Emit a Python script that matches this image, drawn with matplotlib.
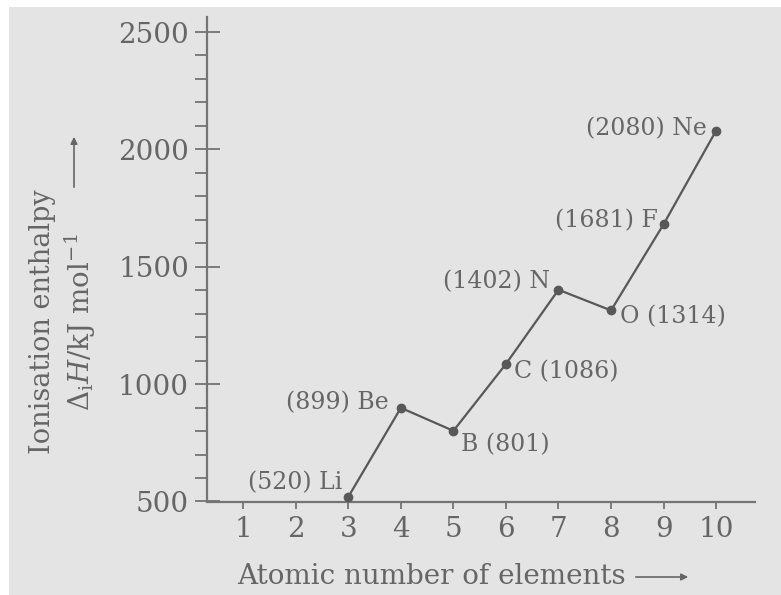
import matplotlib
matplotlib.use('Agg')
import matplotlib.pyplot as plt
from matplotlib.patches import Rectangle, FancyArrowPatch
from matplotlib.ticker import MultipleLocator

# data
atomic_numbers = [3, 4, 5, 6, 7, 8, 9, 10]
enthalpy = [520, 899, 801, 1086, 1402, 1314, 1681, 2080]
symbols = ['Li', 'Be', 'B', 'C', 'N', 'O', 'F', 'Ne']
label_side = ['left', 'left', 'right', 'right', 'left', 'right', 'left', 'left']
x_ticks = [1, 2, 3, 4, 5, 6, 7, 8, 9, 10]
y_ticks = [500, 1000, 1500, 2000, 2500]

# label offsets in pixels (dx, dy), layout only
offsets = [(-6, 14), (-12, 5), (8, -14), (8, -8), (-8, 8), (9, -6), (-6, 4), (-9, 2)]

W, H = 781, 595
TXT = '#666666'
LINE = '#585858'
AX = '#747474'

plt.rcParams['font.family'] = ['DejaVu Serif']
plt.rcParams['mathtext.fontset'] = 'dejavuserif'

fig = plt.figure(figsize=(W / 100, H / 100), dpi=100, facecolor='white')
# grey page of the scan, white strip on top and left
fig.patches.append(Rectangle((9 / W, 0), 1, 1 - 7 / H, transform=fig.transFigure,
                             facecolor='#e4e4e4', edgecolor='none', zorder=-5))

ax = fig.add_axes([207 / W, 1 - 501.5 / H, (755 - 207) / W, (501.5 - 17) / H])
ax.set_facecolor('none')
ax.set_zorder(2)
ax.set_xlim(0.31, 10.74)
ax.set_ylim(500, 2564)

for s in ['top', 'right']:
    ax.spines[s].set_visible(False)
for s in ['left', 'bottom']:
    ax.spines[s].set_color(AX)
    ax.spines[s].set_linewidth(1.6)

ax.set_xticks(x_ticks)
ax.set_yticks(y_ticks)
ax.yaxis.set_minor_locator(MultipleLocator(100))
ax.tick_params(axis='y', which='major', direction='inout', length=18, width=1.3,
               color=AX, labelcolor=TXT, labelsize=20, pad=4)
ax.tick_params(axis='y', which='minor', direction='out', length=9, width=1.3, color=AX)
ax.tick_params(axis='x', which='major', direction='out', length=5, width=1.3,
               color=AX, labelcolor=TXT, labelsize=20, pad=5.5)

ax.plot(atomic_numbers, enthalpy, color=LINE, lw=1.6, marker='o', ms=6,
        clip_on=False, zorder=3)

for x, y, sym, side, (dx, dy) in zip(atomic_numbers, enthalpy, symbols, label_side, offsets):
    if side == 'left':
        txt = f'({y}) {sym}'
        ha = 'right'
    else:
        txt = f'{sym} ({y})'
        ha = 'left'
    ax.annotate(txt, (x, y), xytext=(dx, dy), textcoords='offset pixels',
                ha=ha, va='center', fontsize=17, color=TXT)

# axis titles with their arrows
fig.text(237 / W, 1 - 576 / H, 'Atomic number of elements', ha='left', va='center',
         fontsize=20, color=TXT)
fig.patches.append(FancyArrowPatch((633 / W, 1 - 577 / H), (691 / W, 1 - 577 / H),
                                   transform=fig.transFigure, arrowstyle='-|>',
                                   mutation_scale=10, color=TXT, lw=1.2))

fig.text(43 / W, 1 - 322 / H, 'Ionisation enthalpy', rotation=90, ha='center',
         va='center', fontsize=19.5, color=TXT)
fig.text(80 / W, 1 - 322 / H, r'$\Delta_{\rm i}H$/kJ mol$^{-1}$', rotation=90,
         ha='center', va='center', fontsize=20, color=TXT)
fig.patches.append(FancyArrowPatch((74 / W, 1 - 190 / H), (74 / W, 1 - 134 / H),
                                   transform=fig.transFigure, arrowstyle='-|>',
                                   mutation_scale=10, color=TXT, lw=1.2))

fig.savefig('out.png', dpi=100, facecolor='white')
